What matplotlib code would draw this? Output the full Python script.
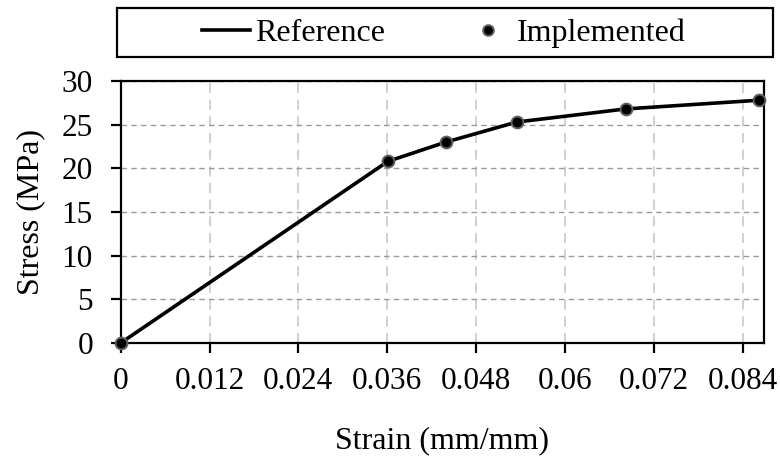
import matplotlib
matplotlib.use('Agg')
import matplotlib.pyplot as plt
from matplotlib.patches import Rectangle

# stress-strain curve: reference line and implemented points
strain = [0.0, 0.0361, 0.0439, 0.0535, 0.0682, 0.0862]
stress = [0.0, 20.8, 23.0, 25.3, 26.8, 27.8]

xticks = [0, 0.012, 0.024, 0.036, 0.048, 0.06, 0.072, 0.084]
xtick_labels = ['0', '0.012', '0.024', '0.036', '0.048', '0.06', '0.072', '0.084']
yticks = [0, 5, 10, 15, 20, 25, 30]

plt.rcParams['font.family'] = ['Liberation Serif', 'DejaVu Serif']

fig = plt.figure(figsize=(7.8, 4.59), dpi=100)
ax = fig.add_axes([120.7 / 780, 1 - 343 / 459, 643.3 / 780, 262 / 459])

ax.plot(strain, stress, color='black', linewidth=2.6, label='Reference', zorder=3)
ax.plot(strain, stress, linestyle='none', marker='o', markersize=8.5,
        markerfacecolor='black', markeredgecolor='#606060', markeredgewidth=1.4,
        label='Implemented', zorder=4, clip_on=False)

ax.set_xlim(0, 0.0869)
ax.set_ylim(0, 30)
ax.set_xticks(xticks)
ax.set_xticklabels(xtick_labels)
ax.set_yticks(yticks)

# dashed grid: lighter, longer dashes for the vertical lines
ax.xaxis.grid(True, color='#c8c8c8', linestyle=(0, (6, 4)), linewidth=1.2)
ax.yaxis.grid(True, color='#9a9a9a', linestyle=(0, (4, 3)), linewidth=1.0)
ax.set_axisbelow(True)
for s in ax.spines.values():
    s.set_linewidth(1.6)
    s.set_color('black')

ax.tick_params(axis='both', direction='out', length=7, width=1.6, labelsize=22.5)
ax.tick_params(axis='x', pad=10)
ax.tick_params(axis='y', pad=13)
ax.set_xlabel('Strain (mm/mm)', fontsize=23, labelpad=22)
ax.set_ylabel('Stress (MPa)', fontsize=23, labelpad=12)

# legend box across the top
fig.patches.append(Rectangle((117 / 780, 1 - 57 / 459), 656 / 780, 49 / 459,
                             transform=fig.transFigure, facecolor='white',
                             edgecolor='black', linewidth=1.6))
leg = fig.legend(loc='center', bbox_to_anchor=(444 / 780, 1 - 33 / 459), ncol=2,
                 fontsize=23, frameon=False, handlelength=1.5,
                 columnspacing=2.5, handletextpad=0.15, markerscale=0.9)

fig.savefig('out.png', dpi=100)
